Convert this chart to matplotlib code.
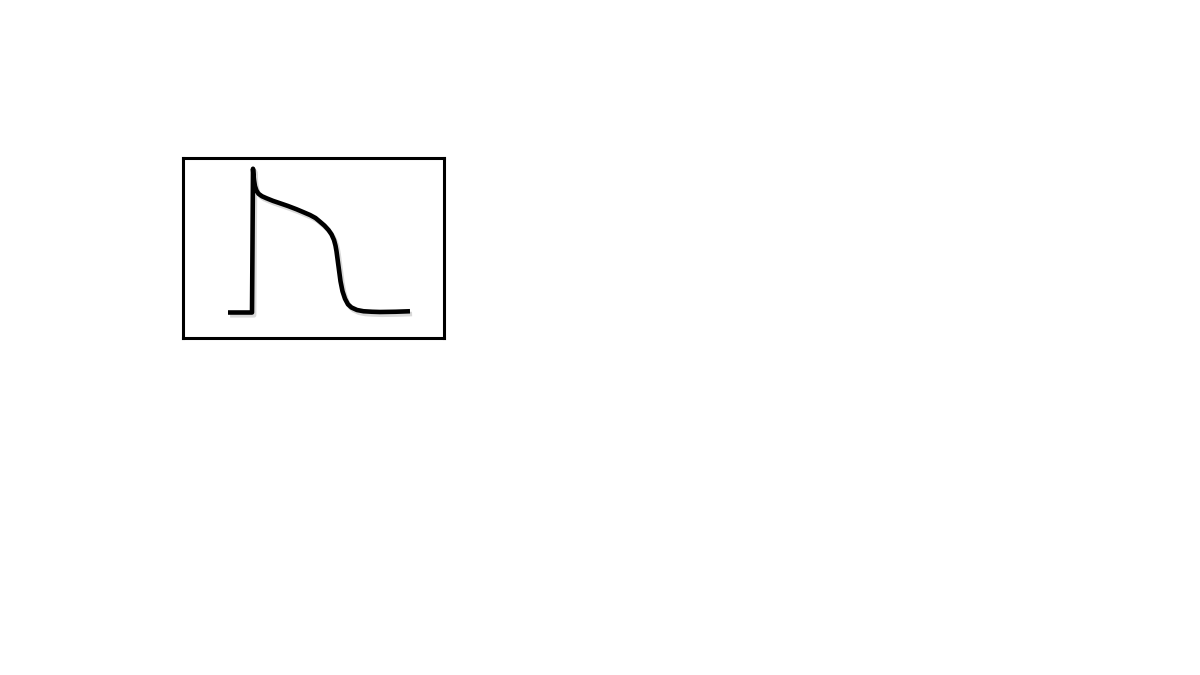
import matplotlib
matplotlib.use("Agg")
from matplotlib import pyplot as plt
from matplotlib import patheffects as pe

# cardiac action potential sketch
time_ms = [0, 48, 49, 50, 51, 52, 54, 57, 61, 68, 77, 90, 104, 120, 137, 150, 164,
           175, 184, 193, 201, 207, 212, 215, 217, 219, 221, 223, 225, 229, 234,
           240, 247, 258, 271, 288, 304, 335, 364]
voltage_mv = [-85, -85, -30, 30, 25, 21, 16, 12.5, 10, 8, 6.4, 4.3, 2.4, 0.2, -2.4,
              -4.6, -7, -9.4, -12.4, -15.5, -19, -22.5, -27, -31.5, -36, -42, -48,
              -54, -60, -68, -74, -78.5, -81, -83, -84, -84.4, -84.6, -84.4, -84]

fig = plt.figure(figsize=(12, 6.75), dpi=100)
ax = fig.add_axes([183 / 1200, (675 - 338) / 675, 261 / 1200, 180 / 675])

ax.plot(time_ms, voltage_mv, color="black", lw=3.3, solid_joinstyle="round",
        solid_capstyle="butt",
        path_effects=[pe.SimpleLineShadow(offset=(1.5, -2), alpha=0.15), pe.Normal()])

ax.set_xlim(-90, 432)
ax.set_ylim(-105.4, 38.6)
ax.set_xticks([])
ax.set_yticks([])
for s in ax.spines.values():
    s.set_linewidth(2.2)
    s.set_color("black")

fig.savefig("out.png", dpi=100)
